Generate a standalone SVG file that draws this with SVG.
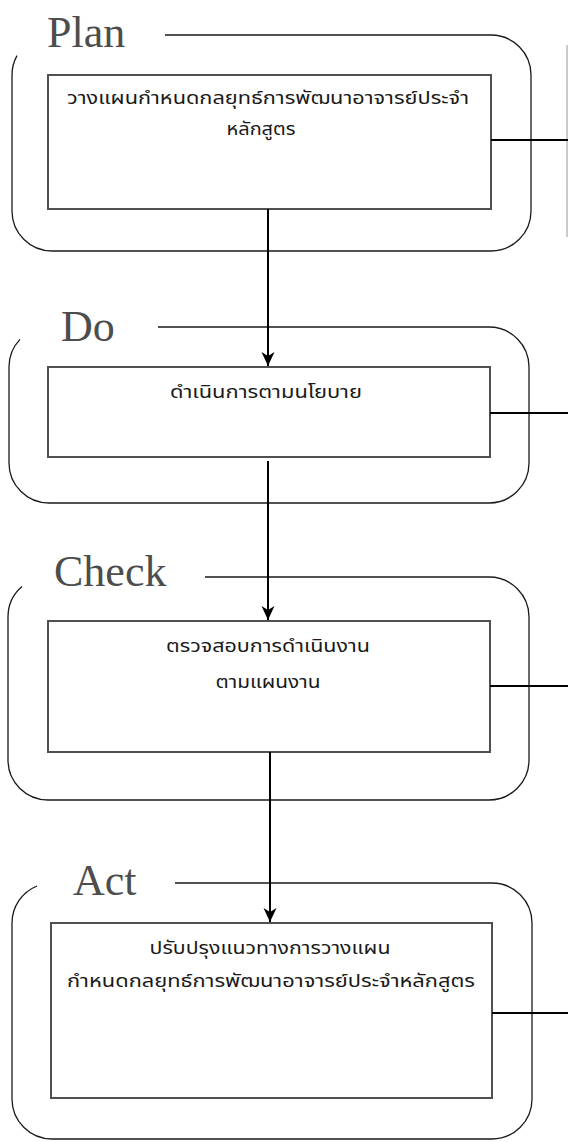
<svg xmlns="http://www.w3.org/2000/svg" width="568" height="1142" viewBox="0 0 568 1142">
<style>
.frame{fill:none;stroke:#1a1a1a;stroke-width:1.3}
.box{fill:#fff;stroke:#505050;stroke-width:2}
.lbl{font-size:44px;fill:#4d4d4d}
.txt{font-size:17px;fill:#1a1a1a;text-anchor:middle}
.conn{fill:none;stroke:#000;stroke-width:2}
.side{fill:none;stroke:#999;stroke-width:1}
</style>
<defs>
<marker id="arr" markerUnits="userSpaceOnUse" markerWidth="16" markerHeight="16" viewBox="0 0 16 16" refX="14" refY="8" orient="auto">
<path d="M0,1.5 L14,8 L0,14.5 L4,8 Z" fill="#000"/>
</marker>
</defs>
<rect width="568" height="1142" fill="#fff"/>

<g id="plan">
<path class="frame" d="M17,55.6 A40,40 0 0 0 12,75 V211 A40,40 0 0 0 52,251 H491 A40,40 0 0 0 531,211 V75 A40,40 0 0 0 491,35 H165"/>
<text class="lbl" font-family="Liberation Serif, Times New Roman, DejaVu Serif, serif" x="47" y="47">Plan</text>
<rect class="box" x="48" y="75" width="443" height="134"/>
<text class="txt" font-family="Noto Sans Thai, Noto Sans, DejaVu Sans, sans-serif" x="268" y="104" textLength="402" lengthAdjust="spacingAndGlyphs">วางแผนกำหนดกลยุทธ์การพัฒนาอาจารย์ประจำ</text>
<text class="txt" font-family="Noto Sans Thai, Noto Sans, DejaVu Sans, sans-serif" x="261" y="135" textLength="69" lengthAdjust="spacingAndGlyphs">หลักสูตร</text>
</g>

<g id="do">
<path class="frame" d="M20,339.4 A40,40 0 0 0 9,367 V463 A40,40 0 0 0 49,503 H489 A40,40 0 0 0 529,463 V367 A40,40 0 0 0 489,327 H158"/>
<text class="lbl" font-family="Liberation Serif, Times New Roman, DejaVu Serif, serif" x="61" y="341">Do</text>
<rect class="box" x="48" y="367" width="442" height="90"/>
<text class="txt" font-family="Noto Sans Thai, Noto Sans, DejaVu Sans, sans-serif" x="266" y="398" textLength="192" lengthAdjust="spacingAndGlyphs">ดำเนินการตามนโยบาย</text>
</g>

<g id="check">
<path class="frame" d="M22,586.6 A40,40 0 0 0 8,617 V760 A40,40 0 0 0 48,800 H489 A40,40 0 0 0 529,760 V617 A40,40 0 0 0 489,577 H205"/>
<text class="lbl" font-family="Liberation Serif, Times New Roman, DejaVu Serif, serif" x="54" y="586">Check</text>
<rect class="box" x="48" y="621" width="442" height="131"/>
<text class="txt" font-family="Noto Sans Thai, Noto Sans, DejaVu Sans, sans-serif" x="268" y="652" textLength="204" lengthAdjust="spacingAndGlyphs">ตรวจสอบการดำเนินงาน</text>
<text class="txt" font-family="Noto Sans Thai, Noto Sans, DejaVu Sans, sans-serif" x="268" y="688" textLength="105" lengthAdjust="spacingAndGlyphs">ตามแผนงาน</text>
</g>

<g id="act">
<path class="frame" d="M37,886 A40,40 0 0 0 12,923 V1099 A40,40 0 0 0 52,1139 H492 A40,40 0 0 0 532,1099 V923 A40,40 0 0 0 492,883 H175"/>
<text class="lbl" font-family="Liberation Serif, Times New Roman, DejaVu Serif, serif" x="73" y="895">Act</text>
<rect class="box" x="51" y="923" width="441" height="175"/>
<text class="txt" font-family="Noto Sans Thai, Noto Sans, DejaVu Sans, sans-serif" x="270" y="954" textLength="241" lengthAdjust="spacingAndGlyphs">ปรับปรุงแนวทางการวางแผน</text>
<text class="txt" font-family="Noto Sans Thai, Noto Sans, DejaVu Sans, sans-serif" x="271" y="987" textLength="408" lengthAdjust="spacingAndGlyphs">กำหนดกลยุทธ์การพัฒนาอาจารย์ประจำหลักสูตร</text>
</g>

<g id="side-bar">
<line class="side" x1="567" y1="45" x2="567" y2="237"/>
</g>

<g id="connectors">
<line class="conn" x1="268" y1="209" x2="268" y2="366" marker-end="url(#arr)"/>
<line class="conn" x1="268" y1="461" x2="268" y2="620" marker-end="url(#arr)"/>
<line class="conn" x1="270" y1="752" x2="270" y2="922" marker-end="url(#arr)"/>
<line class="conn" x1="491" y1="140" x2="568" y2="140"/>
<line class="conn" x1="490" y1="413" x2="568" y2="413"/>
<line class="conn" x1="490" y1="686" x2="568" y2="686"/>
<line class="conn" x1="492" y1="1013" x2="568" y2="1013"/>
</g>
</svg>
